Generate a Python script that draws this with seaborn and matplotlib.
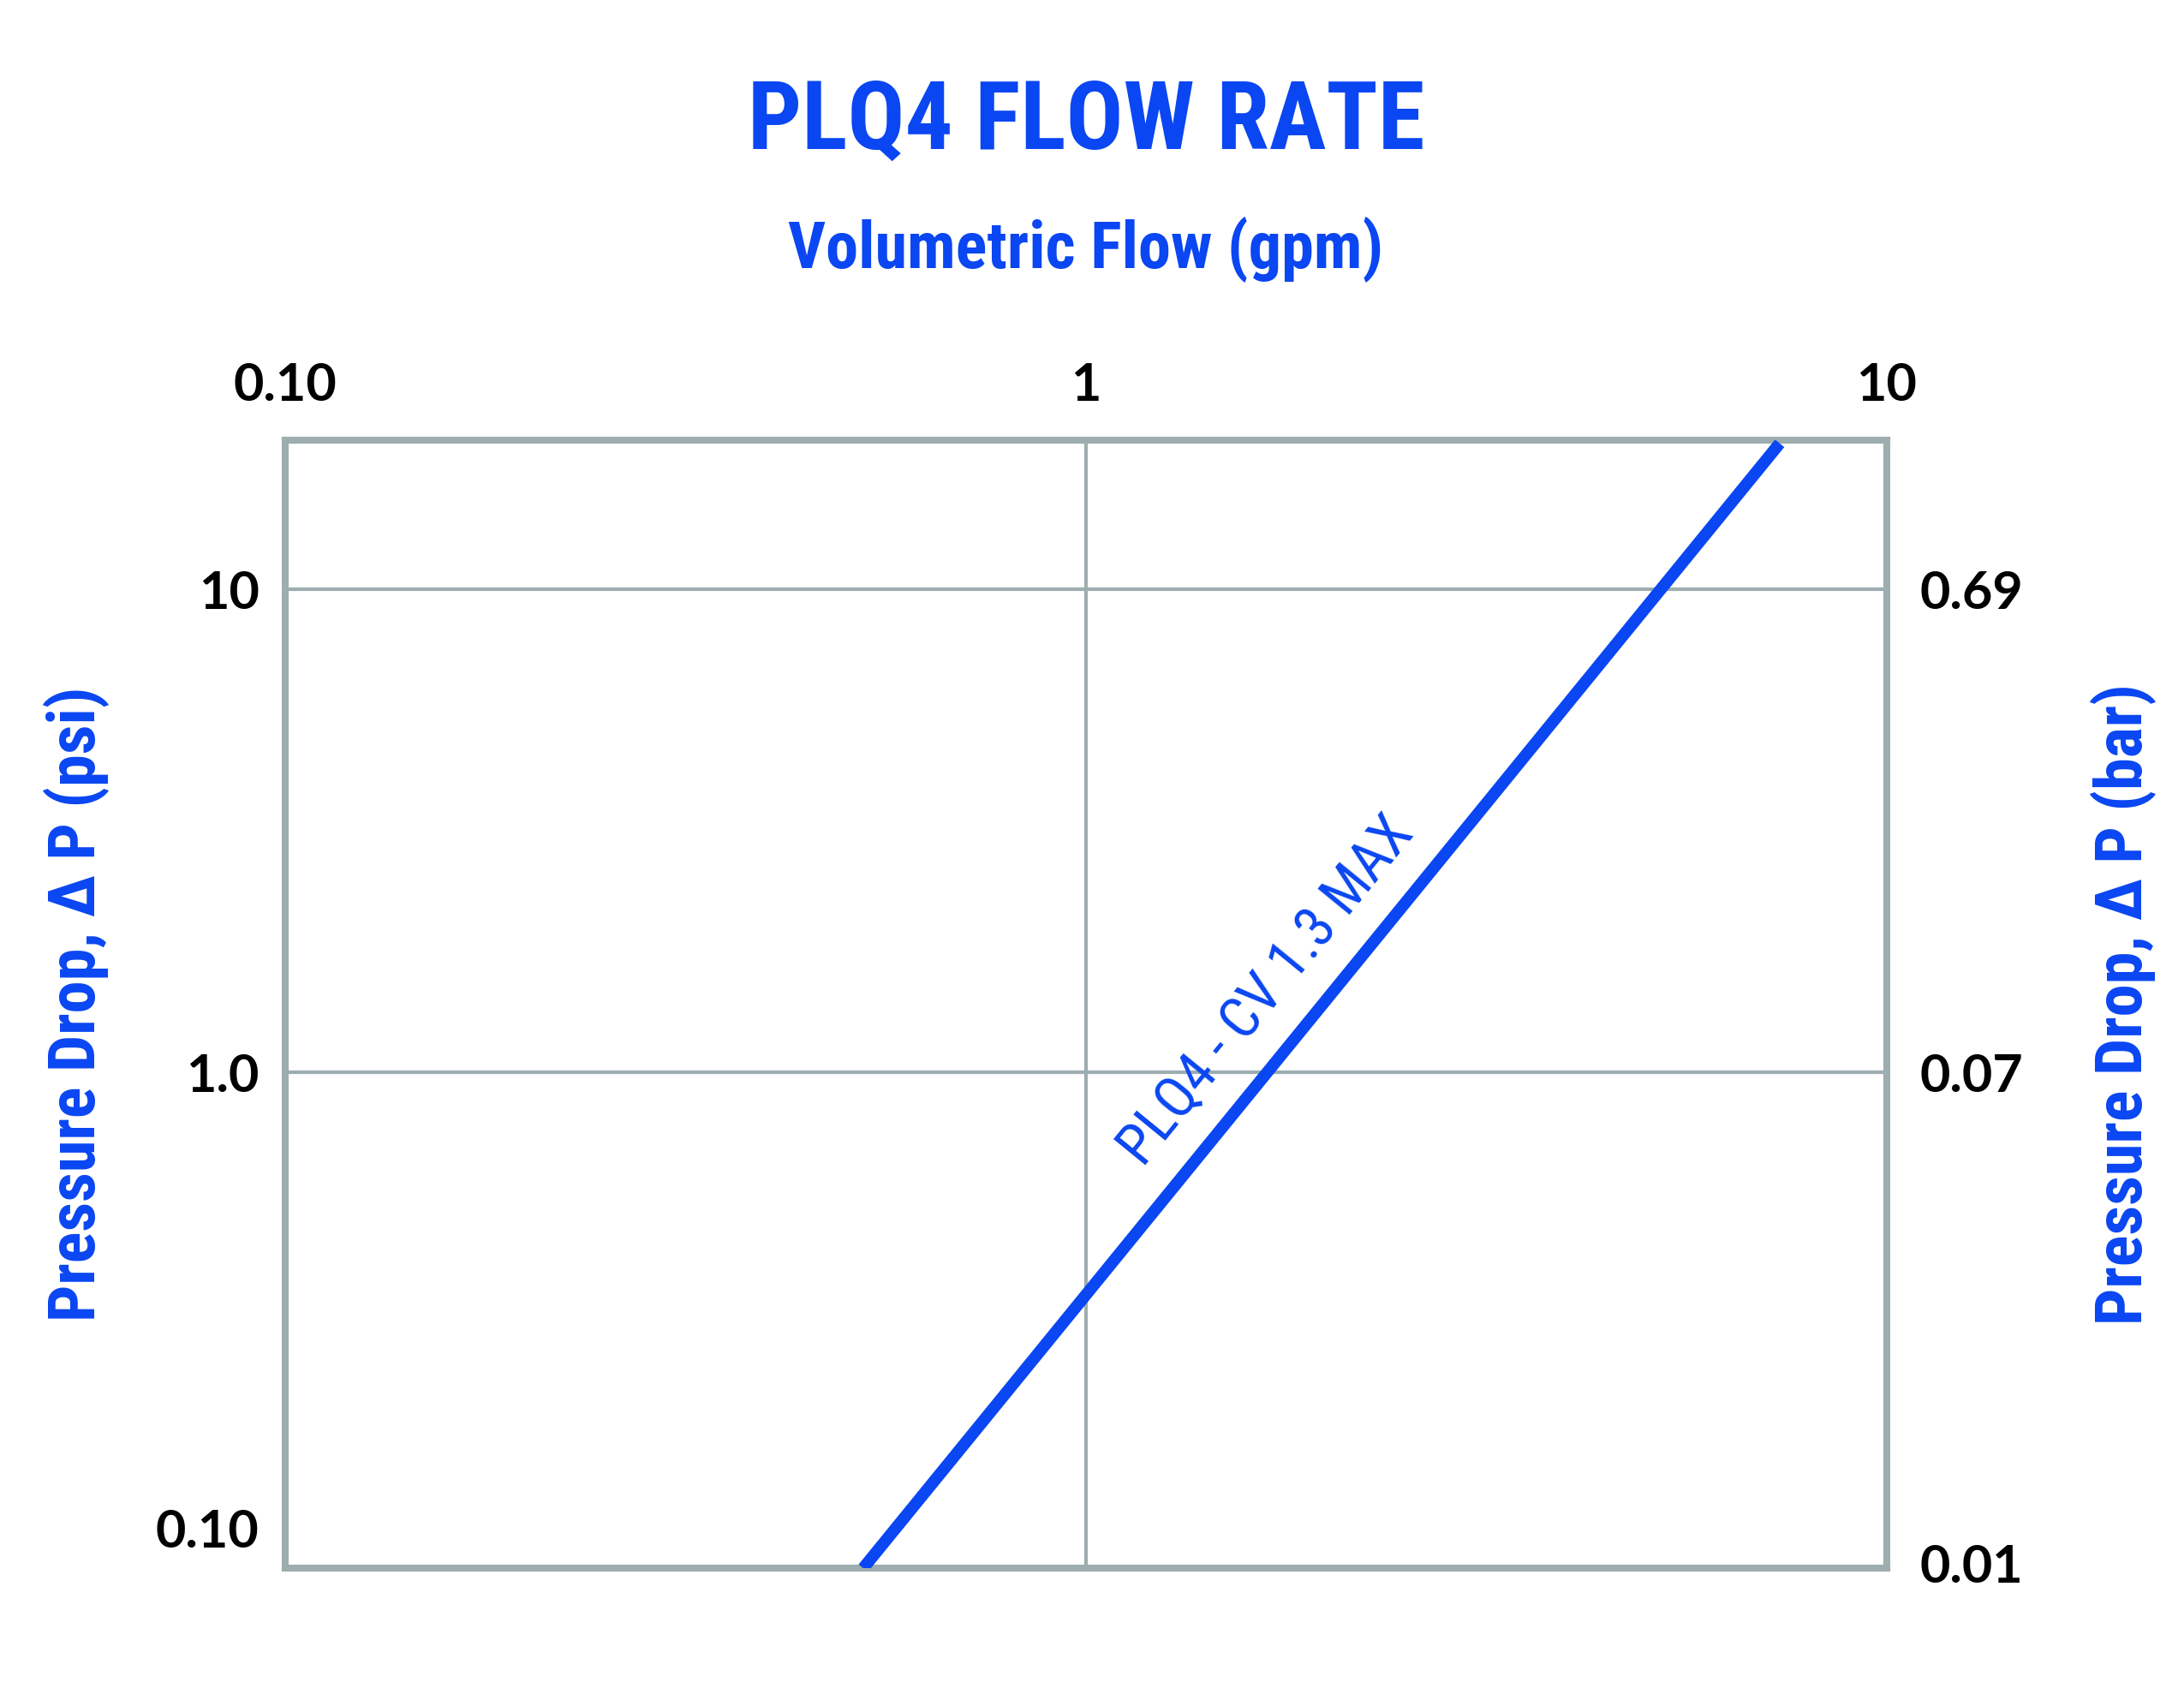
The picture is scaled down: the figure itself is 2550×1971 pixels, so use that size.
import pandas as pd
import seaborn as sns
import matplotlib.pyplot as plt
from matplotlib.ticker import NullLocator

# values
flow_gpm = [0.527, 7.35]      # end points of the PLQ4 line (gpm)
drop_psi = [0.094, 20.0]      # matching pressure drop (psi)
flow_range = [0.1, 10]
psi_range = [0.094, 20.3]
flow_ticks = [0.1, 1, 10]
flow_labels = ["0.10", "1", "10"]
psi_ticks = [10, 1.0, 0.114]
psi_labels = ["10", "1.0", "0.10"]
bar_ticks = [10, 1.0, 0.0964]
bar_labels = ["0.69", "0.07", "0.01"]
grid_flow = [1]
grid_psi = [10, 1]
line_label = "PLQ4 - CV 1.3 MAX"
label_at = (1.686, 1.468)

BLUE = "#0a46f2"
GRAY = "#9dadb0"
COND = ["Roboto Condensed", "DejaVu Sans"]
TICKF = ["Lato", "DejaVu Sans"]

sns.set_style("white")
plt.rcParams["font.family"] = ["DejaVu Sans"]

fig = plt.figure(figsize=(25.5, 19.71), dpi=100)
ax = fig.add_axes([0.1306, 0.0710, 0.7333, 0.6682])

df = pd.DataFrame({"flow": flow_gpm, "psi": drop_psi})
sns.lineplot(data=df, x="flow", y="psi", ax=ax, color=BLUE,
             linewidth=10, solid_capstyle="butt", zorder=3)

ax.set_xscale("log")
ax.set_yscale("log")
ax.set_xlim(flow_range)
ax.set_ylim(psi_range)

for g in grid_flow:
    ax.axvline(g, color=GRAY, lw=3, zorder=1)
for g in grid_psi:
    ax.axhline(g, color=GRAY, lw=3, zorder=1)

ax.xaxis.tick_top()
ax.set_xticks(flow_ticks, flow_labels)
ax.xaxis.set_minor_locator(NullLocator())
ax.set_yticks(psi_ticks, psi_labels)
ax.yaxis.set_minor_locator(NullLocator())
ax.tick_params(axis="x", length=0, pad=26, labelsize=44, top=True,
               bottom=False, labelcolor="black")
ax.tick_params(axis="y", length=0, pad=22, labelsize=44, labelcolor="black")
ax.grid(False)
for s in ax.spines.values():
    s.set_color(GRAY)
    s.set_linewidth(5.8)
    s.set_visible(True)

ax2 = ax.twinx()
ax2.set_yscale("log")
ax2.set_ylim(psi_range)
ax2.set_yticks(bar_ticks, bar_labels)
ax2.yaxis.set_minor_locator(NullLocator())
ax2.tick_params(axis="y", length=0, pad=28, labelsize=44, labelcolor="black")
for s in ax2.spines.values():
    s.set_visible(False)

for lab in ax.get_xticklabels() + ax.get_yticklabels() + ax2.get_yticklabels():
    lab.set_family(TICKF)
    lab.set_weight("bold")

ax.set_xlabel("")
ax.set_ylabel("Pressure Drop, Δ P (psi)", family=COND, weight="bold",
              stretch="condensed", size=55, color=BLUE, va="center")
ax.yaxis.set_label_coords(-0.1305, 0.5)
ax2.set_ylabel("Pressure Drop, Δ P (bar)", family=COND, weight="bold",
               stretch="condensed", size=55, color=BLUE, rotation=90,
               va="center")
ax2.yaxis.set_label_coords(1.148, 0.5)

ax.text(0.5, 1.258, "PLQ4 FLOW RATE", transform=ax.transAxes, ha="center",
        va="baseline", family=COND, weight="bold", stretch="condensed",
        size=80, color=BLUE)
ax.text(0.5, 1.1526, "Volumetric Flow (gpm)", transform=ax.transAxes,
        ha="center", va="baseline", family=COND, weight="bold",
        stretch="condensed", size=55, color=BLUE)

ax.text(label_at[0], label_at[1], line_label, rotation=50.8,
        rotation_mode="anchor", ha="center", va="center", family=COND,
        stretch="condensed", size=48, color=BLUE)

fig.savefig("out.png", dpi=100)
